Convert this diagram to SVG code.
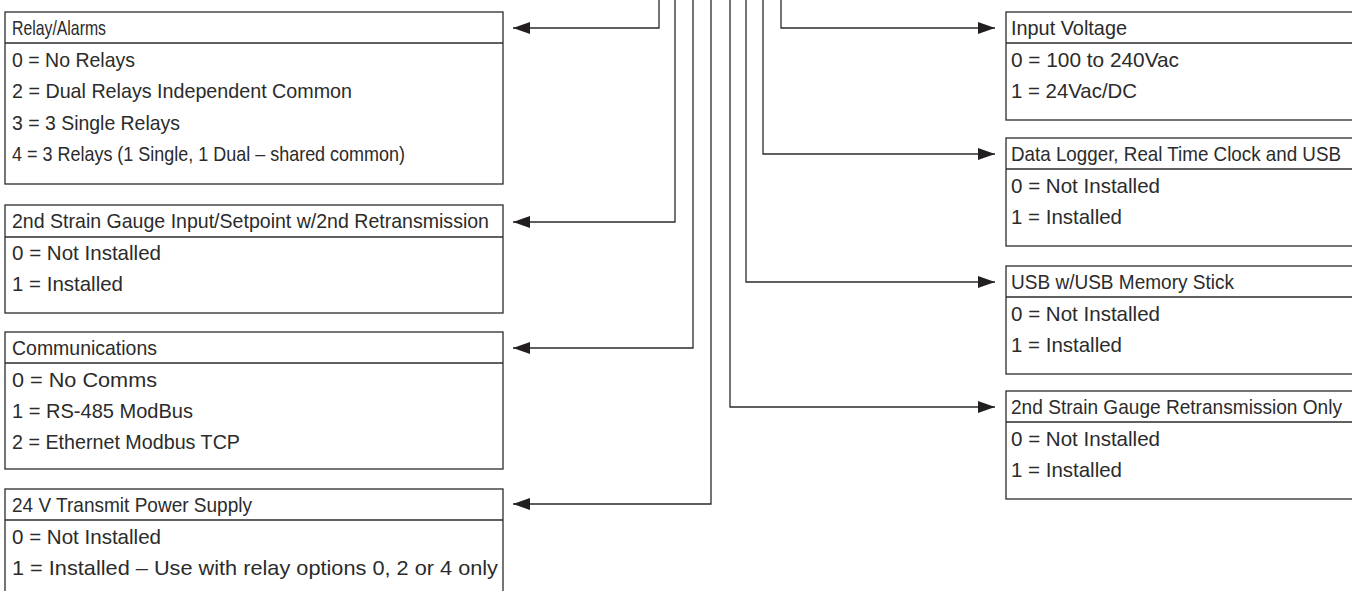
<svg xmlns="http://www.w3.org/2000/svg" width="1352" height="591" viewBox="0 0 1352 591">
<style>
.box{fill:#fff;stroke:#2b2b2b;stroke-width:1.3}
.sep{stroke:#2b2b2b;stroke-width:1.3}
.t{font-family:"Liberation Sans",Arial,sans-serif;font-size:21px;fill:#2b2b2b}
.c{fill:none;stroke:#2b2b2b;stroke-width:1.3}
</style>
<defs>
<marker id="ah" viewBox="0 0 17 12" refX="17" refY="6" markerWidth="17" markerHeight="12" markerUnits="userSpaceOnUse" orient="auto">
<path d="M0,0 L17,6 L0,12 z" fill="#231f20"/>
</marker>
</defs>
<rect width="1352" height="591" fill="#fff"/>
<g id="connectors">
<path class="c" d="M659,0 V28 H513" marker-end="url(#ah)"/>
<path class="c" d="M675,0 V222 H513" marker-end="url(#ah)"/>
<path class="c" d="M693,0 V348 H513" marker-end="url(#ah)"/>
<path class="c" d="M711,0 V504 H513" marker-end="url(#ah)"/>
<path class="c" d="M781,0 V28 H995" marker-end="url(#ah)"/>
<path class="c" d="M763,0 V154 H995" marker-end="url(#ah)"/>
<path class="c" d="M746,0 V282 H995" marker-end="url(#ah)"/>
<path class="c" d="M730,0 V407 H995" marker-end="url(#ah)"/>
</g>
<g id="relay">
<rect class="box" x="5" y="12" width="498" height="172"/>
<line class="sep" x1="5" y1="43" x2="503" y2="43"/>
<text class="t" x="12" y="35" textLength="94" lengthAdjust="spacingAndGlyphs">Relay/Alarms</text>
<text class="t" x="12" y="67" textLength="123" lengthAdjust="spacingAndGlyphs">0 = No Relays</text>
<text class="t" x="12" y="98" textLength="340" lengthAdjust="spacingAndGlyphs">2 = Dual Relays Independent Common</text>
<text class="t" x="12" y="130" textLength="168" lengthAdjust="spacingAndGlyphs">3 = 3 Single Relays</text>
<text class="t" x="12" y="161" textLength="393" lengthAdjust="spacingAndGlyphs">4 = 3 Relays (1 Single, 1 Dual – shared common)</text>
</g>
<g id="strain2">
<rect class="box" x="5" y="205" width="498" height="108"/>
<line class="sep" x1="5" y1="237" x2="503" y2="237"/>
<text class="t" x="12" y="228" textLength="477" lengthAdjust="spacingAndGlyphs">2nd Strain Gauge Input/Setpoint w/2nd Retransmission</text>
<text class="t" x="12" y="260" textLength="149" lengthAdjust="spacingAndGlyphs">0 = Not Installed</text>
<text class="t" x="12" y="291" textLength="111" lengthAdjust="spacingAndGlyphs">1 = Installed</text>
</g>
<g id="comms">
<rect class="box" x="5" y="332" width="498" height="137"/>
<line class="sep" x1="5" y1="363" x2="503" y2="363"/>
<text class="t" x="12" y="355" textLength="145" lengthAdjust="spacingAndGlyphs">Communications</text>
<text class="t" x="12" y="387" textLength="145" lengthAdjust="spacingAndGlyphs">0 = No Comms</text>
<text class="t" x="12" y="418" textLength="181" lengthAdjust="spacingAndGlyphs">1 = RS-485 ModBus</text>
<text class="t" x="12" y="449" textLength="228" lengthAdjust="spacingAndGlyphs">2 = Ethernet Modbus TCP</text>
</g>
<g id="power24">
<rect class="box" x="5" y="489" width="498" height="120"/>
<line class="sep" x1="5" y1="520" x2="503" y2="520"/>
<text class="t" x="12" y="512" textLength="240" lengthAdjust="spacingAndGlyphs">24 V Transmit Power Supply</text>
<text class="t" x="12" y="544" textLength="149" lengthAdjust="spacingAndGlyphs">0 = Not Installed</text>
<text class="t" x="12" y="575" textLength="486" lengthAdjust="spacingAndGlyphs">1 = Installed – Use with relay options 0, 2 or 4 only</text>
</g>
<g id="voltage">
<rect class="box" x="1006" y="12" width="360" height="108"/>
<line class="sep" x1="1006" y1="43" x2="1352" y2="43"/>
<text class="t" x="1011" y="35" textLength="116" lengthAdjust="spacingAndGlyphs">Input Voltage</text>
<text class="t" x="1011" y="67" textLength="168" lengthAdjust="spacingAndGlyphs">0 = 100 to 240Vac</text>
<text class="t" x="1011" y="98" textLength="126" lengthAdjust="spacingAndGlyphs">1 = 24Vac/DC</text>
</g>
<g id="datalogger">
<rect class="box" x="1006" y="138" width="360" height="108"/>
<line class="sep" x1="1006" y1="169" x2="1352" y2="169"/>
<text class="t" x="1011" y="161" textLength="330" lengthAdjust="spacingAndGlyphs">Data Logger, Real Time Clock and USB</text>
<text class="t" x="1011" y="193" textLength="149" lengthAdjust="spacingAndGlyphs">0 = Not Installed</text>
<text class="t" x="1011" y="224" textLength="111" lengthAdjust="spacingAndGlyphs">1 = Installed</text>
</g>
<g id="usb">
<rect class="box" x="1006" y="266" width="360" height="108"/>
<line class="sep" x1="1006" y1="297" x2="1352" y2="297"/>
<text class="t" x="1011" y="289" textLength="223" lengthAdjust="spacingAndGlyphs">USB w/USB Memory Stick</text>
<text class="t" x="1011" y="321" textLength="149" lengthAdjust="spacingAndGlyphs">0 = Not Installed</text>
<text class="t" x="1011" y="352" textLength="111" lengthAdjust="spacingAndGlyphs">1 = Installed</text>
</g>
<g id="retrans">
<rect class="box" x="1006" y="391" width="360" height="108"/>
<line class="sep" x1="1006" y1="422" x2="1352" y2="422"/>
<text class="t" x="1011" y="414" textLength="331" lengthAdjust="spacingAndGlyphs">2nd Strain Gauge Retransmission Only</text>
<text class="t" x="1011" y="446" textLength="149" lengthAdjust="spacingAndGlyphs">0 = Not Installed</text>
<text class="t" x="1011" y="477" textLength="111" lengthAdjust="spacingAndGlyphs">1 = Installed</text>
</g>
</svg>
